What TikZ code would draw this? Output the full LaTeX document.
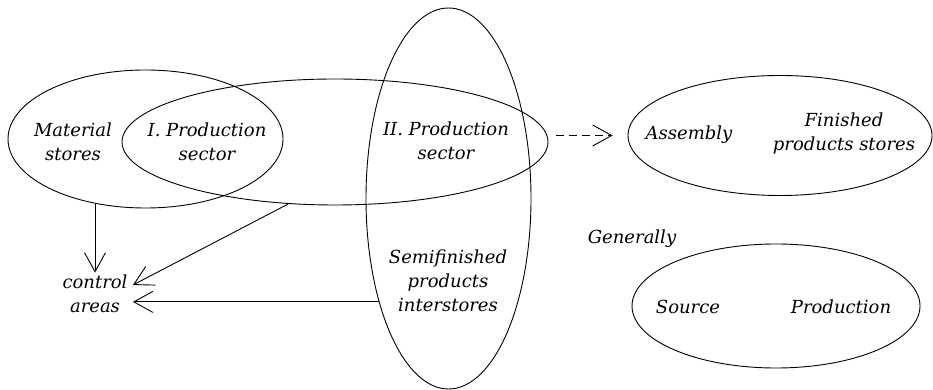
\documentclass[tikz,border=0pt]{standalone}
\usepackage{fontspec}
\setmainfont{DejaVu Serif}
\usetikzlibrary{shapes.geometric,arrows.meta}
\begin{document}
\begin{tikzpicture}[x=1pt,y=1pt,line width=0.9pt,
      every node/.style={font=\fontsize{18}{24}\selectfont\itshape,align=center},
      area/.style={draw,ellipse,inner sep=0pt},
      barb/.style={-{Straight Barb[length=19pt,width=21pt]}}]
      \useasboundingbox (0,0) rectangle (933,390);
      % ellipses
      \node[area,minimum width=275,minimum height=138] (A) at (145.5,251) {};
      \node[area,minimum width=426,minimum height=126] (B) at (335,248) {};
      \node[area,minimum width=165,minimum height=381] (C) at (448.5,191.5) {};
      \node[area,minimum width=304,minimum height=120] (D) at (780,254.5) {};
      \node[area,minimum width=288,minimum height=124] (E) at (776,84) {};
      % texts
      \node (matst) at (73,248) {Material\\stores};
      \node (prodI) at (207,248) {I. Production\\sector};
      \node (prodII) at (446,249) {II. Production\\sector};
      \node (semi) at (448,109) {Semifinished\\products\\interstores};
      \node[inner xsep=5pt,inner ysep=2pt] (ctrl) at (95,96) {control\\areas};
      \node (asm) at (689,255) {Assembly};
      \node (fin) at (844,256) {Finished\\products stores};
      \node (gen) at (632,151) {Generally};
      \node (src) at (688,83) {Source};
      \node (prod) at (841,83) {Production};
      % connectors
      \draw[barb] (A.232) -- (A.232 |- ctrl.north);
      \draw[barb] (B.233) -- ([yshift=9pt]ctrl.east);
      \draw[barb] (C.236) -- (C.236 -| ctrl.east);
      \coordinate (dstart) at ([xshift=8pt]B.east);
      \coordinate (dend) at ([xshift=-15pt]D.west);
      \draw[barb,dash pattern=on 8pt off 5pt] (dstart |- D.west) -- (dend);
     \end{tikzpicture}
\end{document}
